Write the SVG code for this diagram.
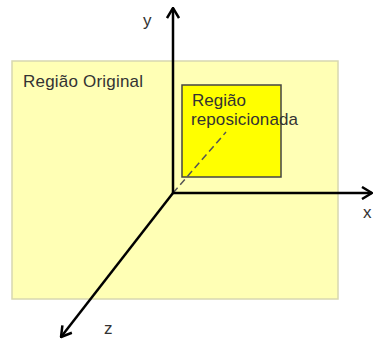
<svg xmlns="http://www.w3.org/2000/svg" width="373" height="340" viewBox="0 0 373 340">
<style>
.lbl{font-family:"Liberation Sans",Arial,sans-serif;font-size:17px;fill:#333}
.axis{stroke:#000;stroke-width:2.5;fill:none}
</style>
<defs>
<marker id="arr" viewBox="0 0 12 14" refX="11" refY="7" markerWidth="12" markerHeight="14" markerUnits="userSpaceOnUse" orient="auto">
<path d="M1,1 L11,7 L1,13" fill="none" stroke="#000" stroke-width="2.5"/>
</marker>
</defs>
<rect width="373" height="340" fill="#fff"/>
<g id="regiao-original">
<rect x="12" y="61" width="326" height="238" fill="#FFFFB5" stroke="#D8D8B0" stroke-width="1.5"/>
<text class="lbl" x="23" y="87" textLength="120">Região Original</text>
</g>
<g id="regiao-reposicionada">
<rect x="182" y="85" width="99" height="92" fill="#FFFF00" stroke="#444" stroke-width="1.5"/>
<text class="lbl" x="192" y="106">Região</text>
<text class="lbl" x="191" y="124.5" textLength="107">reposicionada</text>
</g>
<g id="connectors">
<line x1="173" y1="193" x2="226" y2="132" stroke="#555" stroke-width="1.5" stroke-dasharray="7,4"/>
<line class="axis" x1="173" y1="194" x2="173" y2="8" marker-end="url(#arr)"/>
<line class="axis" x1="172" y1="193" x2="372" y2="193" marker-end="url(#arr)"/>
<line class="axis" x1="173" y1="193" x2="61" y2="337" marker-end="url(#arr)"/>
</g>
<g id="labels">
<text class="lbl" x="143" y="26">y</text>
<text class="lbl" x="363" y="218">x</text>
<text class="lbl" x="104" y="334">z</text>
</g>
</svg>
